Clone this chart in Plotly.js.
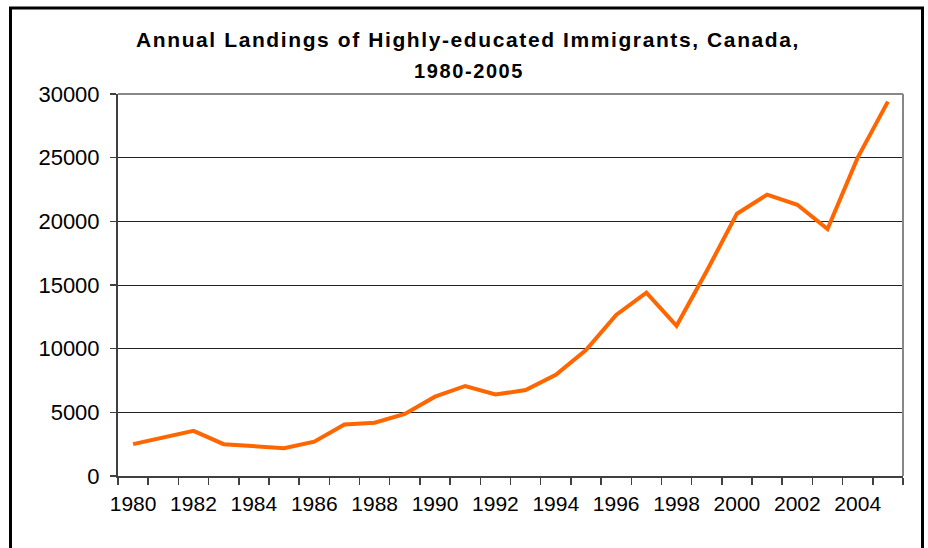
<!DOCTYPE html>
<html>
<head>
<meta charset="utf-8">
<script src="https://cdn.plot.ly/plotly-3.0.1.min.js"></script>
<style>
  html, body { margin: 0; padding: 0; background: #fff; }
  #chart { width: 928px; height: 548px; }
  .gtitle, .annotation-text { letter-spacing: 1.6px; }
</style>
</head>
<body>
<div id="chart"></div>
<script>
// ---- data ----
const years = [1980,1981,1982,1983,1984,1985,1986,1987,1988,1989,1990,1991,1992,
               1993,1994,1995,1996,1997,1998,1999,2000,2001,2002,2003,2004,2005];
const landings = [2500,3000,3550,2500,2350,2180,2700,4050,4190,4870,6230,7070,6400,
                  6750,7950,9900,12650,14400,11800,16100,20600,22100,21300,19400,25000,29400];
const xTickYears = [1980,1982,1984,1986,1988,1990,1992,1994,1996,1998,2000,2002,2004];
const yTickVals = [0,5000,10000,15000,20000,25000,30000];
const titleLine1 = "Annual Landings of Highly-educated Immigrants, Canada,";
const titleLine2 = "1980-2005";

const FONT = "Arial, 'Liberation Sans', sans-serif";

const trace = {
  x: years,
  y: landings,
  type: 'scatter',
  mode: 'lines',
  line: { color: '#FF6600', width: 4 },
  hoverinfo: 'x+y',
  showlegend: false
};

// plot area: left 118, right 903, top 94, bottom 476
const L = 118, R = 903, T = 94, B = 476;
const W = R - L, H = B - T;
const px = x => (x - L) / W;
const py = y => (B - y) / H;

const layout = {
  width: 928, height: 548,
  margin: { l: L, r: 928 - R, t: T, b: 548 - B, pad: 0 },
  paper_bgcolor: '#ffffff',
  plot_bgcolor: '#ffffff',
  font: { family: FONT, color: '#000' },
  title: {
    text: '<b>' + titleLine1 + '</b>',
    font: { family: FONT, size: 21, color: '#000' },
    x: 468 / 928, xanchor: 'center',
    y: 1 - 40 / 548, yanchor: 'middle',
    xref: 'container', yref: 'container'
  },
  annotations: [{
    text: '<b>' + titleLine2 + '</b>',
    font: { family: FONT, size: 20, color: '#000' },
    xref: 'paper', yref: 'paper',
    x: px(469), y: py(71), xanchor: 'center', yanchor: 'middle',
    showarrow: false
  }],
  xaxis: {
    type: 'linear',
    range: [1979.5, 2005.5],
    tickmode: 'array',
    tickvals: xTickYears,
    ticktext: xTickYears.map(String),
    ticks: 'outside',
    ticklen: 8,
    tickcolor: 'rgba(0,0,0,0)',
    tickfont: { family: FONT, size: 21, color: '#000' },
    showgrid: false,
    zeroline: false,
    showline: true,
    linecolor: '#404040',
    linewidth: 2,
    minor: {
      tickmode: 'linear',
      tick0: 1979.5,
      dtick: 1,
      ticks: 'outside',
      ticklen: 7,
      tickwidth: 1.5,
      tickcolor: '#404040',
      showgrid: false
    },
    fixedrange: true
  },
  yaxis: {
    range: [0, 30000],
    tickmode: 'array',
    tickvals: yTickVals,
    ticktext: yTickVals.map(String),
    ticks: 'outside',
    ticklen: 6,
    tickwidth: 1.5,
    tickcolor: '#404040',
    tickfont: { family: FONT, size: 22, color: '#000' },
    ticklabelstandoff: 6,
    showgrid: true,
    gridcolor: '#222222',
    gridwidth: 1,
    zeroline: false,
    showline: true,
    linecolor: '#404040',
    linewidth: 2,
    fixedrange: true
  },
  shapes: [
    // grey top and right frame of plot area
    { type: 'line', xref: 'paper', yref: 'paper', x0: 0, x1: 1, y0: 1, y1: 1,
      line: { color: '#888888', width: 2 }, layer: 'above' },
    { type: 'line', xref: 'paper', yref: 'paper', x0: 1, x1: 1, y0: 0, y1: 1,
      line: { color: '#888888', width: 2 }, layer: 'above' },
    // outer black chart border
    { type: 'rect', xref: 'paper', yref: 'paper',
      x0: px(10.5), x1: px(922.5), y0: py(560), y1: py(8),
      line: { color: '#000000', width: 3 }, fillcolor: 'rgba(0,0,0,0)', layer: 'above' }
  ]
};

Plotly.newPlot('chart', [trace], layout, { displayModeBar: false, staticPlot: true });
</script>
</body>
</html>
